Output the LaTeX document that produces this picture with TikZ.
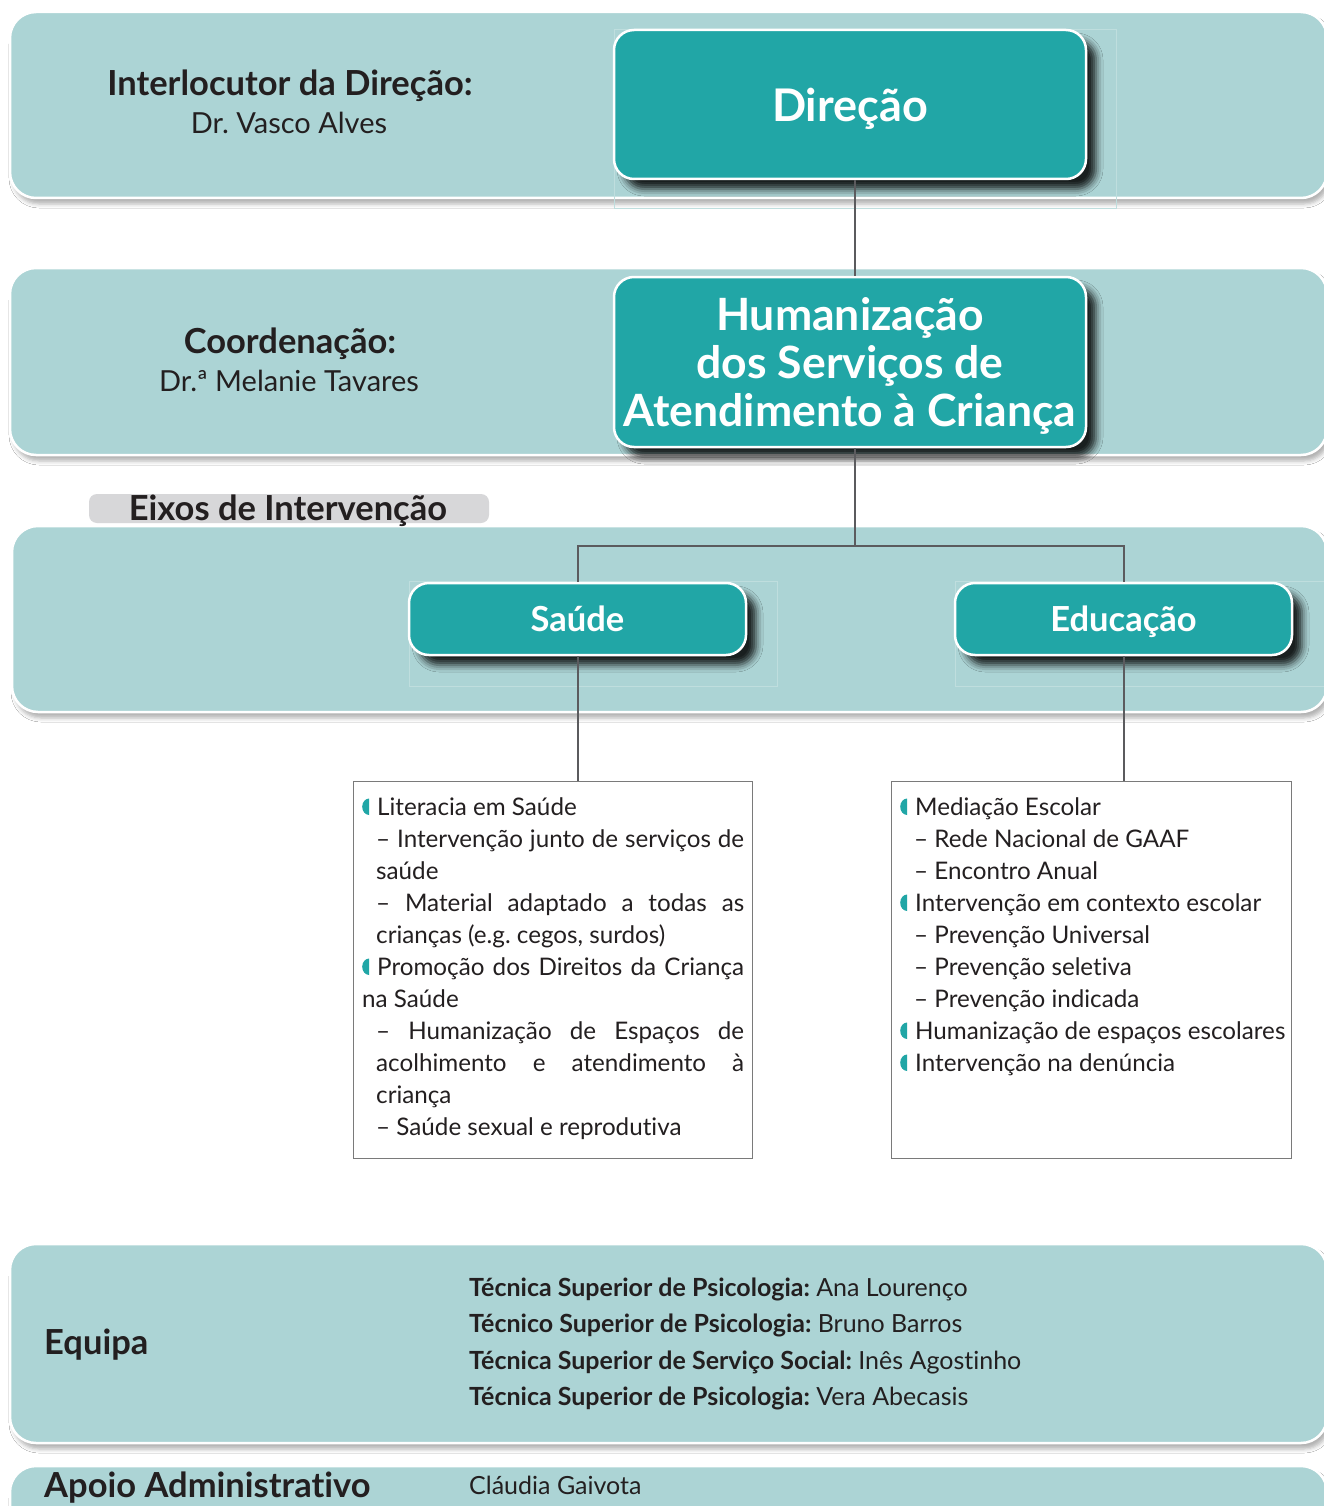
\documentclass[tikz,border=0pt]{standalone}
\usepackage{fontspec}
\setmainfont{Lato}[Ligatures=NoCommon]
\usetikzlibrary{shadows.blur}
\definecolor{bandc}{HTML}{ACD4D5}
\definecolor{tealc}{HTML}{21A6A6}
\definecolor{tabc}{HTML}{D7D7D9}
\definecolor{txt}{HTML}{231F20}
\definecolor{connc}{HTML}{5B5B5E}
\definecolor{boxline}{HTML}{7A7A7A}
\definecolor{faint}{HTML}{BFDEDE}
\frenchspacing
\newcommand\bulmark{\tikz[baseline=0pt,x=1pt,y=1pt]\fill[tealc] (7,0) -- (7,16.5) arc[start angle=90, end angle=270, x radius=7, y radius=8.25] -- cycle;\hspace*{8pt}}
\newcommand\bodyf{\fontsize{24.2}{32}\selectfont}
\newcommand\teamf{\fontsize{25}{32}\selectfont}
\newcommand\headf{\fontsize{34.5}{40}\selectfont\bfseries}
\newcommand\namef{\fontsize{29}{34}\selectfont}
\begin{document}
\begin{tikzpicture}[x=1pt,y=-1pt,
  band/.style={fill=bandc, draw=white, line width=2.5pt, rounded corners=26pt,
    blur shadow={shadow xshift=3pt, shadow yshift=-6pt, shadow blur radius=4pt, shadow opacity=30}},
  tealbox/.style={fill=tealc, draw=white, line width=2.5pt, rounded corners=20pt, text=white,
    align=center, inner sep=0pt, text depth=0pt,
    blur shadow={shadow xshift=10pt, shadow yshift=-10pt, shadow blur radius=7pt, shadow opacity=85}},
  frame/.style={draw=faint, line width=0.8pt},
  conn/.style={draw=connc, line width=2pt},
  listbox/.style={draw=boxline, line width=1pt, fill=white, inner sep=0pt, anchor=north west},
  lbl/.style={text=txt, inner sep=0pt, anchor=base},
  ln/.style={text=txt, inner sep=0pt, anchor=base west, font=\bodyf},
  tm/.style={text=txt, inner sep=0pt, anchor=base west, font=\teamf},
]
\useasboundingbox (0,0) rectangle (1324,1506);
\fill[white] (0,0) rectangle (1324,1506);

% bands
\path[band] (10,12) rectangle (1327,198);
\path[band] (10,268) rectangle (1327,455);
\path[band] (12,526) rectangle (1327,712);
\path[band] (10,1244) rectangle (1327,1443);
\path[band] (10,1466) rectangle (1327,1540);

% faint frames
\draw[frame] (614,29) rectangle (1116,208);
\draw[frame] (409,581) rectangle (777,686);
\draw[frame] (955,581) rectangle (1330,686);

% tab
\path[fill=tabc, rounded corners=8pt] (89,494) rectangle (489,523);
\node[lbl, font=\headf] (eixos) at (288,520) {Eixos de Intervenção};

% left labels
\node[lbl, font=\headf] (interl) at (290,96) {Interlocutor da Direção:};
\node[lbl, font=\namef] (vasco) at (289,134) {Dr. Vasco Alves};
\node[lbl, font=\headf] (coord) at (290,353) {Coordenação:};
\node[lbl, font=\namef] (melanie) at (289,391) {Dr.ª Melanie Tavares};

% teal boxes
\node[tealbox, minimum width=472pt, minimum height=149pt, font=\fontsize{45}{48}\selectfont\bfseries] (dir) at (850,104.5) {Direção};
\node[tealbox, minimum width=472pt, minimum height=170pt, font=\fontsize{44.5}{48}\selectfont\bfseries] (hum) at (850,362) {Humanização\\dos Serviços de\\Atendimento à Criança};
\node[tealbox, minimum width=337pt, minimum height=72pt, font=\headf] (sau) at (577.5,619) {Saúde};
\node[tealbox, minimum width=337pt, minimum height=72pt, font=\headf] (edu) at (1123.5,619) {Educação};

% list boxes
\node[listbox, minimum width=399pt, minimum height=377pt] (saulist) at (353,781) {};
\node[listbox, minimum width=400pt, minimum height=377pt] (edulist) at (891,781) {};

% connectors
\coordinate (spine) at (855,0);
\coordinate (bar) at (0,546);
\draw[conn] (dir.south -| spine) -- (hum.north -| spine);
\draw[conn] (hum.south -| spine) -- (spine |- bar);
\draw[conn] (sau.north) |- (edu.north |- bar) -- (edu.north);
\draw[conn] (sau.south) -- (sau.south |- saulist.north);
\draw[conn] (edu.south) -- (edu.south |- edulist.north);

% Saude list
\node[ln] (s0) at (362,815) {\bulmark Literacia em Saúde};
\node[ln] (s1) at (376,847) {\makebox[368pt][s]{– Intervenção junto de serviços de}};
\node[ln] (s2) at (376,879) {saúde};
\node[ln] (s3) at (376,911) {\makebox[368pt][s]{– Material adaptado a todas as}};
\node[ln] (s4) at (376,943) {crianças (e.g. cegos, surdos)};
\node[ln] (s5) at (362,975) {\bulmark\makebox[367pt][s]{Promoção dos Direitos da Criança}};
\node[ln] (s6) at (362,1007) {na Saúde};
\node[ln] (s7) at (376,1039) {\makebox[368pt][s]{– Humanização de Espaços de}};
\node[ln] (s8) at (376,1071) {\makebox[368pt][s]{acolhimento e atendimento à}};
\node[ln] (s9) at (376,1103) {criança};
\node[ln] (s10) at (376,1135) {– Saúde sexual e reprodutiva};

% Educacao list
\node[ln] (e0) at (900,815) {\bulmark Mediação Escolar};
\node[ln] (e1) at (914,847) {– Rede Nacional de GAAF};
\node[ln] (e2) at (914,879) {– Encontro Anual};
\node[ln] (e3) at (900,911) {\bulmark Intervenção em contexto escolar};
\node[ln] (e4) at (914,943) {– Prevenção Universal};
\node[ln] (e5) at (914,975) {– Prevenção seletiva};
\node[ln] (e6) at (914,1007) {– Prevenção indicada};
\node[ln] (e7) at (900,1039) {\bulmark Humanização de espaços escolares};
\node[ln] (e8) at (900,1071) {\bulmark Intervenção na denúncia};

% Equipa
\node[lbl, anchor=base west, font=\headf] (equipa) at (44,1354) {Equipa};
\node[tm] (t1) at (469,1296) {\textbf{Técnica Superior de Psicologia:} Ana Lourenço};
\node[tm] (t2) at (469,1332) {\textbf{Técnico Superior de Psicologia:} Bruno Barros};
\node[tm] (t3) at (469,1369) {\textbf{Técnica Superior de Serviço Social:} Inês Agostinho};
\node[tm] (t4) at (469,1405) {\textbf{Técnica Superior de Psicologia:} Vera Abecasis};

% Apoio
\node[lbl, anchor=base west, font=\headf] (apoio) at (44,1497) {Apoio Administrativo};
\node[tm] (claudia) at (469,1494) {Cláudia Gaivota};
\end{tikzpicture}
\end{document}
